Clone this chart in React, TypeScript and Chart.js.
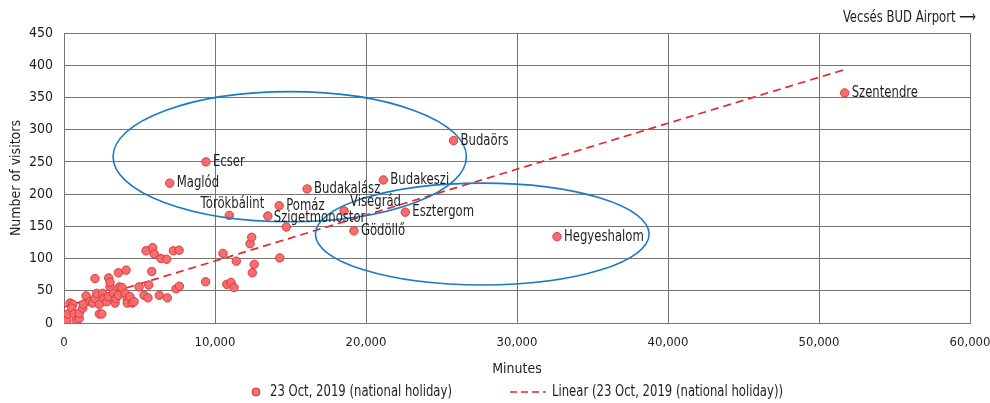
import React, { useEffect, useRef } from "react";
import { Chart, registerables } from "chart.js";

Chart.register(...registerables);

const FONT = '"Liberation Sans Narrow", "DejaVu Sans Condensed", "Arial Narrow", sans-serif';

// ---- data ----
const xTickStep = 10000;
const xMax = 60000;
const yTickStep = 50;
const yMax = 450;

const clusterMinutes = [
  200, 250, 400, 580, 510, 660, 840, 1010, 1010, 1240, 1280, 1460, 1720, 1900, 2050, 2170, 2340, 2340,
  2500, 2560, 2650, 2830, 2930, 3050, 3270, 3380, 3440, 3600, 3660, 3840, 4040, 4190, 4190, 4370, 4520,
  4640, 2050, 2960, 3050, 3600, 4110, 5430, 5870, 5980, 6420, 6800, 7240, 7620, 5810, 5610, 4970, 5300,
  5560, 6310, 6840, 7420, 7640, 9380, 10530, 11410, 10780, 11060, 11260, 12320, 12430, 12600, 12470,
  14290, 14720,
];
const clusterVisitors = [
  4, 14, 31, 29, 23, 14, 4, 7, 15, 23, 29, 42, 33, 31, 38, 46, 29, 14,
  14, 46, 38, 33, 41, 56, 46, 31, 38, 43, 56, 55, 46, 37, 31, 41, 31,
  33, 69, 70, 63, 78, 82, 112, 117, 107, 100, 99, 112, 113, 80, 59, 56, 43,
  39, 43, 39, 53, 57, 64, 108, 96, 60, 63, 55, 123, 133, 91, 78,
  101, 149,
];

const townNames = [
  "Szentendre", "Budaörs", "Ecser", "Maglód", "Budakalász", "Budakeszi", "Törökbálint",
  "Pomáz", "Szigetmonostor", "Visegrád", "Esztergom", "Gödöllő", "Hegyeshalom",
];
const townMinutes = [51700, 25800, 9400, 7000, 16100, 21150, 10950, 14250, 13500, 18550, 22600, 19200, 32650];
const townVisitors = [357, 283, 250, 217, 208, 222, 167, 182, 166, 174, 172, 143, 134];

const trendMinutes = [0, 51800];
const trendVisitors = [25, 394];

// annotation ellipses (data units)
const ellipseCenterMinutes = [14950, 27700];
const ellipseCenterVisitors = [258, 138];
const ellipseRadiusMinutes = [11700, 11050];
const ellipseRadiusVisitors = [101, 79];

const seriesLabel = "23 Oct, 2019 (national holiday)";
const trendLabel = "Linear (23 Oct, 2019 (national holiday))";
const cornerNote = "Vecsés BUD Airport \u27f6";

// label placement (style)
const labelPlacement: Record<string, { dx: number; dy: number; align: CanvasTextAlign }> = {
  "Törökbálint": { dx: 3, dy: -12, align: "center" },
  "Visegrád": { dx: 6, dy: -9, align: "left" },
  "Szigetmonostor": { dx: 6, dy: 2, align: "left" },
};

const POINT_FILL = "#f36f6f";
const POINT_BORDER = "#e2353b";
const TREND_COLOR = "#e8262c";
const ELLIPSE_COLOR = "#1a7bc4";
const GRID = "#767676";
const TEXT = "#1e1e1e";
const SQUEEZE = 0.81;

function narrowText(ctx: CanvasRenderingContext2D, text: string, x: number, y: number, align: CanvasTextAlign) {
  ctx.save();
  ctx.translate(x, y);
  ctx.scale(SQUEEZE, 1);
  ctx.textAlign = align;
  ctx.fillText(text, 0, 0);
  ctx.restore();
}

const overlayPlugin = {
  id: "overlay",
  afterDatasetsDraw(chart: any) {
    const { ctx, scales } = chart;
    const xs = scales.x;
    const ys = scales.y;
    ctx.save();
    // ellipses
    ctx.strokeStyle = ELLIPSE_COLOR;
    ctx.lineWidth = 1.6;
    for (let i = 0; i < ellipseCenterMinutes.length; i++) {
      const cx = xs.getPixelForValue(ellipseCenterMinutes[i]);
      const cy = ys.getPixelForValue(ellipseCenterVisitors[i]);
      const rx = Math.abs(xs.getPixelForValue(ellipseCenterMinutes[i] + ellipseRadiusMinutes[i]) - cx);
      const ry = Math.abs(ys.getPixelForValue(ellipseCenterVisitors[i] + ellipseRadiusVisitors[i]) - cy);
      ctx.beginPath();
      ctx.ellipse(cx, cy, rx, ry, 0, 0, Math.PI * 2);
      ctx.stroke();
    }
    // town labels
    ctx.fillStyle = TEXT;
    ctx.font = `16px ${FONT}`;
    ctx.textBaseline = "middle";
    for (let i = 0; i < townNames.length; i++) {
      const name = townNames[i];
      const p = labelPlacement[name] || { dx: 7, dy: 0, align: "left" as CanvasTextAlign };
      const px = xs.getPixelForValue(townMinutes[i]);
      const py = ys.getPixelForValue(townVisitors[i]);
      narrowText(ctx, name, px + p.dx, py + p.dy, p.align);
    }
    ctx.restore();
  },
  afterDraw(chart: any) {
    const { ctx } = chart;
    ctx.save();
    ctx.fillStyle = TEXT;
    ctx.font = `16px ${FONT}`;
    ctx.textBaseline = "middle";
    narrowText(ctx, cornerNote, 976, 18, "right");
    // legend
    const ly = 392;
    ctx.beginPath();
    ctx.arc(256, ly, 4, 0, Math.PI * 2);
    ctx.fillStyle = POINT_FILL;
    ctx.fill();
    ctx.strokeStyle = POINT_BORDER;
    ctx.lineWidth = 1;
    ctx.stroke();
    ctx.fillStyle = TEXT;
    narrowText(ctx, seriesLabel, 270, ly, "left");
    ctx.beginPath();
    ctx.setLineDash([7, 4]);
    ctx.strokeStyle = TREND_COLOR;
    ctx.lineWidth = 1.6;
    ctx.moveTo(510, ly);
    ctx.lineTo(546, ly);
    ctx.stroke();
    ctx.setLineDash([]);
    narrowText(ctx, trendLabel, 552, ly, "left");
    ctx.restore();
  },
};

export default function App() {
  const canvasRef = useRef<HTMLCanvasElement | null>(null);

  useEffect(() => {
    const canvas = canvasRef.current;
    if (!canvas) return;
    const points = clusterMinutes
      .map((x, i) => ({ x, y: clusterVisitors[i] }))
      .concat(townMinutes.map((x, i) => ({ x, y: townVisitors[i] })));
    const trend = trendMinutes.map((x, i) => ({ x, y: trendVisitors[i] }));

    const chart = new Chart(canvas, {
      type: "scatter",
      data: {
        datasets: [
          {
            label: trendLabel,
            type: "line",
            data: trend,
            borderColor: TREND_COLOR,
            borderWidth: 1.7,
            borderDash: [8, 5],
            pointRadius: 0,
            fill: false,
            order: 2,
          } as any,
          {
            label: seriesLabel,
            data: points,
            backgroundColor: POINT_FILL,
            borderColor: POINT_BORDER,
            borderWidth: 1,
            pointRadius: 4.2,
            order: 1,
          },
        ],
      },
      options: {
        responsive: false,
        animation: false,
        events: [],
        layout: { padding: { left: 0, top: 33, right: 20, bottom: 0 } },
        plugins: {
          legend: { display: false },
          tooltip: { enabled: false },
        },
        scales: {
          x: {
            type: "linear",
            min: 0,
            max: xMax,
            afterFit: (s: any) => {
              s.height = 80;
              s.paddingLeft = 0;
              s.paddingRight = 0;
            },
            ticks: {
              stepSize: xTickStep,
              color: TEXT,
              font: { family: FONT, size: 13 },
              padding: 12,
              callback: (v: any) => Number(v).toLocaleString("en-US"),
            },
            grid: { color: GRID, drawTicks: false },
            border: { color: GRID },
            title: {
              display: true,
              text: "Minutes",
              color: TEXT,
              font: { family: FONT, size: 14 },
              padding: { top: 0, bottom: 25 },
            },
          },
          y: {
            type: "linear",
            min: 0,
            max: yMax,
            afterFit: (s: any) => {
              s.width = 64;
              s.paddingTop = 0;
              s.paddingBottom = 0;
            },
            ticks: {
              stepSize: yTickStep,
              color: TEXT,
              font: { family: FONT, size: 14 },
              padding: 11,
            },
            grid: { color: GRID, drawTicks: false },
            border: { color: GRID },
            title: {
              display: true,
              text: "Number of visitors",
              color: TEXT,
              font: { family: FONT, size: 14 },
              padding: { top: 8, bottom: 0 },
            },
          },
        },
      },
      plugins: [overlayPlugin],
    });
    return () => chart.destroy();
  }, []);

  return (
    <div style={{ position: "absolute", left: 0, top: 0, width: 990, height: 403, background: "#fff" }}>
      <canvas ref={canvasRef} width={990} height={403} style={{ display: "block" }} />
    </div>
  );
}
